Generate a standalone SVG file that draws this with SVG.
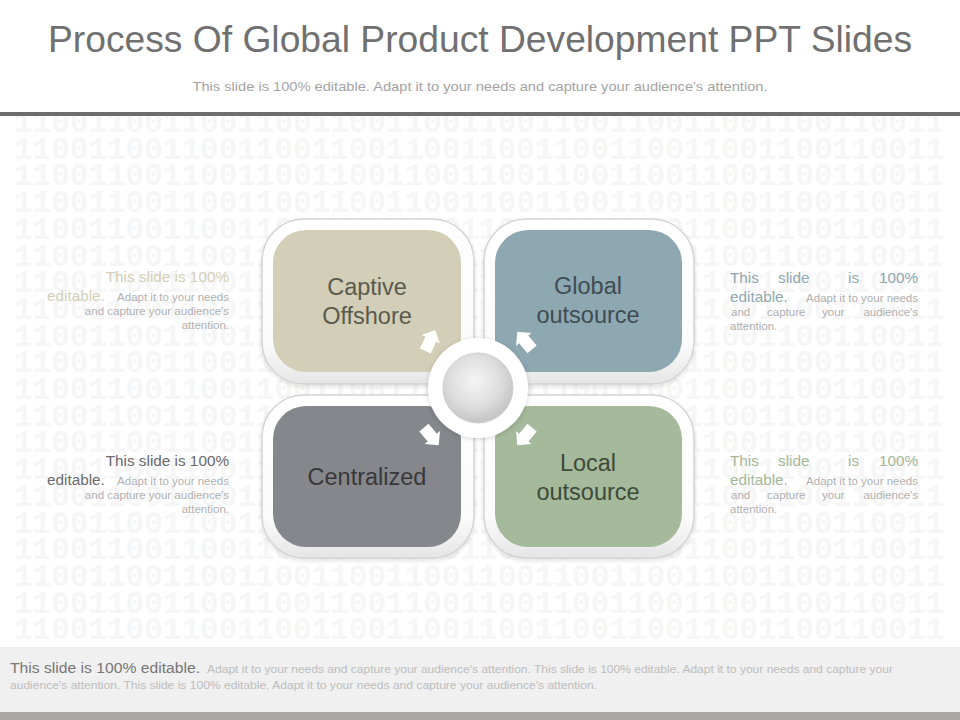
<svg xmlns="http://www.w3.org/2000/svg" width="960" height="720" viewBox="0 0 960 720">
<defs>
<style>
.t{font-family:"Liberation Sans",Arial,sans-serif}
.bin{font-family:"Liberation Mono","Courier New",monospace;font-weight:bold;font-size:31px;fill:#f6f6f6}
.lbl{font-family:"Liberation Sans",Arial,sans-serif;font-size:23.5px;text-anchor:middle}
.lead{font-family:"Liberation Sans",Arial,sans-serif;font-size:15.3px}
.sm{font-family:"Liberation Sans",Arial,sans-serif;font-size:11.5px;fill:#b0b0b0}
.frame{fill:url(#gFrame);stroke:#d4d4d4;stroke-width:1.5;filter:url(#sh)}
.arrow{fill:#ffffff}
</style>
<linearGradient id="gFrame" x1="0" y1="0" x2="0" y2="1">
<stop offset="0" stop-color="#ffffff"/>
<stop offset="0.75" stop-color="#fbfbfb"/>
<stop offset="1" stop-color="#e6e6e6"/>
</linearGradient>
<radialGradient id="gSphere" cx="0.45" cy="0.4" r="0.6">
<stop offset="0" stop-color="#f4f4f4"/>
<stop offset="0.6" stop-color="#dedede"/>
<stop offset="1" stop-color="#c4c4c4"/>
</radialGradient>
<filter id="sh" x="-10%" y="-10%" width="120%" height="120%">
<feDropShadow dx="0" dy="2" stdDeviation="2" flood-color="#000" flood-opacity="0.12"/>
</filter>
<filter id="shc" x="-20%" y="-20%" width="140%" height="140%">
<feDropShadow dx="0" dy="1" stdDeviation="2.5" flood-color="#000" flood-opacity="0.18"/>
</filter>
<path id="arr" d="M0,-12 L10,-2 L6,-2 L6,11 L-6,11 L-6,-2 L-10,-2 Z"/>
</defs>

<rect x="0" y="0" width="960" height="720" fill="#ffffff"/>

<g id="background-pattern">
<text class="bin" x="14" y="132">11001100110011001100110011001100110011001100110011</text>
<text class="bin" x="14" y="158.7">11001100110011001100110011001100110011001100110011</text>
<text class="bin" x="14" y="185.4">11001100110011001100110011001100110011001100110011</text>
<text class="bin" x="14" y="212.1">11001100110011001100110011001100110011001100110011</text>
<text class="bin" x="14" y="238.8">11001100110011001100110011001100110011001100110011</text>
<text class="bin" x="14" y="265.5">11001100110011001100110011001100110011001100110011</text>
<text class="bin" x="14" y="292.2">11001100110011001100110011001100110011001100110011</text>
<text class="bin" x="14" y="318.9">11001100110011001100110011001100110011001100110011</text>
<text class="bin" x="14" y="345.6">11001100110011001100110011001100110011001100110011</text>
<text class="bin" x="14" y="372.3">11001100110011001100110011001100110011001100110011</text>
<text class="bin" x="14" y="399">11001100110011001100110011001100110011001100110011</text>
<text class="bin" x="14" y="425.7">11001100110011001100110011001100110011001100110011</text>
<text class="bin" x="14" y="452.4">11001100110011001100110011001100110011001100110011</text>
<text class="bin" x="14" y="479.1">11001100110011001100110011001100110011001100110011</text>
<text class="bin" x="14" y="505.8">11001100110011001100110011001100110011001100110011</text>
<text class="bin" x="14" y="532.5">11001100110011001100110011001100110011001100110011</text>
<text class="bin" x="14" y="559.2">11001100110011001100110011001100110011001100110011</text>
<text class="bin" x="14" y="585.9">11001100110011001100110011001100110011001100110011</text>
<text class="bin" x="14" y="612.6">11001100110011001100110011001100110011001100110011</text>
<text class="bin" x="14" y="639.3">11001100110011001100110011001100110011001100110011</text>
</g>

<g id="header">
<rect x="0" y="0" width="960" height="112" fill="#ffffff"/>
<text class="t" x="480" y="52" font-size="37" fill="#707070" text-anchor="middle" textLength="864" lengthAdjust="spacingAndGlyphs">Process Of Global Product Development PPT Slides</text>
<text class="t" x="480" y="91" font-size="13" fill="#a3a3a3" text-anchor="middle" textLength="575" lengthAdjust="spacingAndGlyphs">This slide is 100% editable. Adapt it to your needs and capture your audience's attention.</text>
<rect x="0" y="112" width="960" height="4" fill="#6d6d6d"/>
</g>

<g id="node-captive-offshore">
<rect class="frame" x="262" y="219" width="212" height="165" rx="42"/>
<rect x="273" y="230" width="188" height="142" rx="33" fill="#d2ceb7"/>
<text class="lbl" x="367" y="295" fill="#5b5a4e">Captive</text>
<text class="lbl" x="367" y="324" fill="#5b5a4e">Offshore</text>
</g>

<g id="node-global-outsource">
<rect class="frame" x="484" y="219" width="210" height="165" rx="42"/>
<rect x="495" y="230" width="187" height="142" rx="33" fill="#8ea8b1"/>
<text class="lbl" x="588" y="294" fill="#3f4c52">Global</text>
<text class="lbl" x="588" y="323" fill="#3f4c52">outsource</text>
</g>

<g id="node-centralized">
<rect class="frame" x="262" y="395" width="212" height="163" rx="42"/>
<rect x="273" y="406" width="188" height="141" rx="33" fill="#86878c"/>
<text class="lbl" x="367" y="485" fill="#38383a">Centralized</text>
</g>

<g id="node-local-outsource">
<rect class="frame" x="484" y="395" width="210" height="163" rx="42"/>
<rect x="495" y="406" width="187" height="141" rx="33" fill="#a5b99b"/>
<text class="lbl" x="588" y="471" fill="#3e4a3c">Local</text>
<text class="lbl" x="588" y="500" fill="#3e4a3c">outsource</text>
</g>

<g id="connectors">
<use href="#arr" class="arrow" transform="translate(430,341) rotate(25)"/>
<use href="#arr" class="arrow" transform="translate(525,341) rotate(-40)"/>
<use href="#arr" class="arrow" transform="translate(431,436) rotate(140)"/>
<use href="#arr" class="arrow" transform="translate(525,436) rotate(-140)"/>
</g>

<g id="node-center">
<circle cx="478" cy="388" r="50" fill="#ffffff" filter="url(#shc)"/>
<circle cx="478" cy="388" r="35" fill="url(#gSphere)" stroke="#cfcfcf" stroke-width="1"/>
</g>

<g id="note-left-top" text-anchor="end">
<text class="lead" x="229" y="282" fill="#d3cfb6">This slide is 100%</text>
<text class="lead" x="47" y="301" fill="#d3cfb6" text-anchor="start">editable.</text>
<text class="sm" x="229" y="301">Adapt it to your needs</text>
<text class="sm" x="229" y="315">and capture your audience's</text>
<text class="sm" x="229" y="329">attention.</text>
</g>

<g id="note-left-bottom" text-anchor="end">
<text class="lead" x="229" y="466" fill="#6a6a6a">This slide is 100%</text>
<text class="lead" x="47" y="485" fill="#6a6a6a" text-anchor="start">editable.</text>
<text class="sm" x="229" y="485">Adapt it to your needs</text>
<text class="sm" x="229" y="499">and capture your audience's</text>
<text class="sm" x="229" y="513">attention.</text>
</g>

<g id="note-right-top">
<text class="lead" x="730" y="283" fill="#8ea8b1">This</text>
<text class="lead" x="778" y="283" fill="#8ea8b1">slide</text>
<text class="lead" x="848" y="283" fill="#8ea8b1">is</text>
<text class="lead" x="918" y="283" fill="#8ea8b1" text-anchor="end">100%</text>
<text class="lead" x="730" y="302" fill="#8ea8b1">editable.</text>
<text class="sm" x="918" y="302" text-anchor="end">Adapt it to your needs</text>
<text class="sm" x="731" y="316">and</text>
<text class="sm" x="767" y="316">capture</text>
<text class="sm" x="822" y="316">your</text>
<text class="sm" x="918" y="316" text-anchor="end">audience's</text>
<text class="sm" x="730" y="330">attention.</text>
</g>

<g id="note-right-bottom">
<text class="lead" x="730" y="466" fill="#a4b899">This</text>
<text class="lead" x="778" y="466" fill="#a4b899">slide</text>
<text class="lead" x="848" y="466" fill="#a4b899">is</text>
<text class="lead" x="918" y="466" fill="#a4b899" text-anchor="end">100%</text>
<text class="lead" x="730" y="485" fill="#a4b899">editable.</text>
<text class="sm" x="918" y="485" text-anchor="end">Adapt it to your needs</text>
<text class="sm" x="731" y="499">and</text>
<text class="sm" x="767" y="499">capture</text>
<text class="sm" x="822" y="499">your</text>
<text class="sm" x="918" y="499" text-anchor="end">audience's</text>
<text class="sm" x="730" y="513">attention.</text>
</g>

<g id="footer">
<rect x="0" y="647" width="960" height="65" fill="#f0f0f0"/>
<rect x="0" y="712" width="960" height="8" fill="#aba8a8"/>
<text class="t" x="10" y="673" font-size="15.5" fill="#777777" textLength="190" lengthAdjust="spacingAndGlyphs">This slide is 100% editable.</text>
<text class="t" x="207" y="673" font-size="11.5" fill="#bdbdbd" textLength="686" lengthAdjust="spacingAndGlyphs">Adapt it to your needs and capture your audience's attention. This slide is 100% editable. Adapt it to your needs and capture your</text>
<text class="t" x="10" y="689" font-size="11.5" fill="#bdbdbd" textLength="587" lengthAdjust="spacingAndGlyphs">audience's attention. This slide is 100% editable. Adapt it to your needs and capture your audience's attention.</text>
</g>
</svg>
